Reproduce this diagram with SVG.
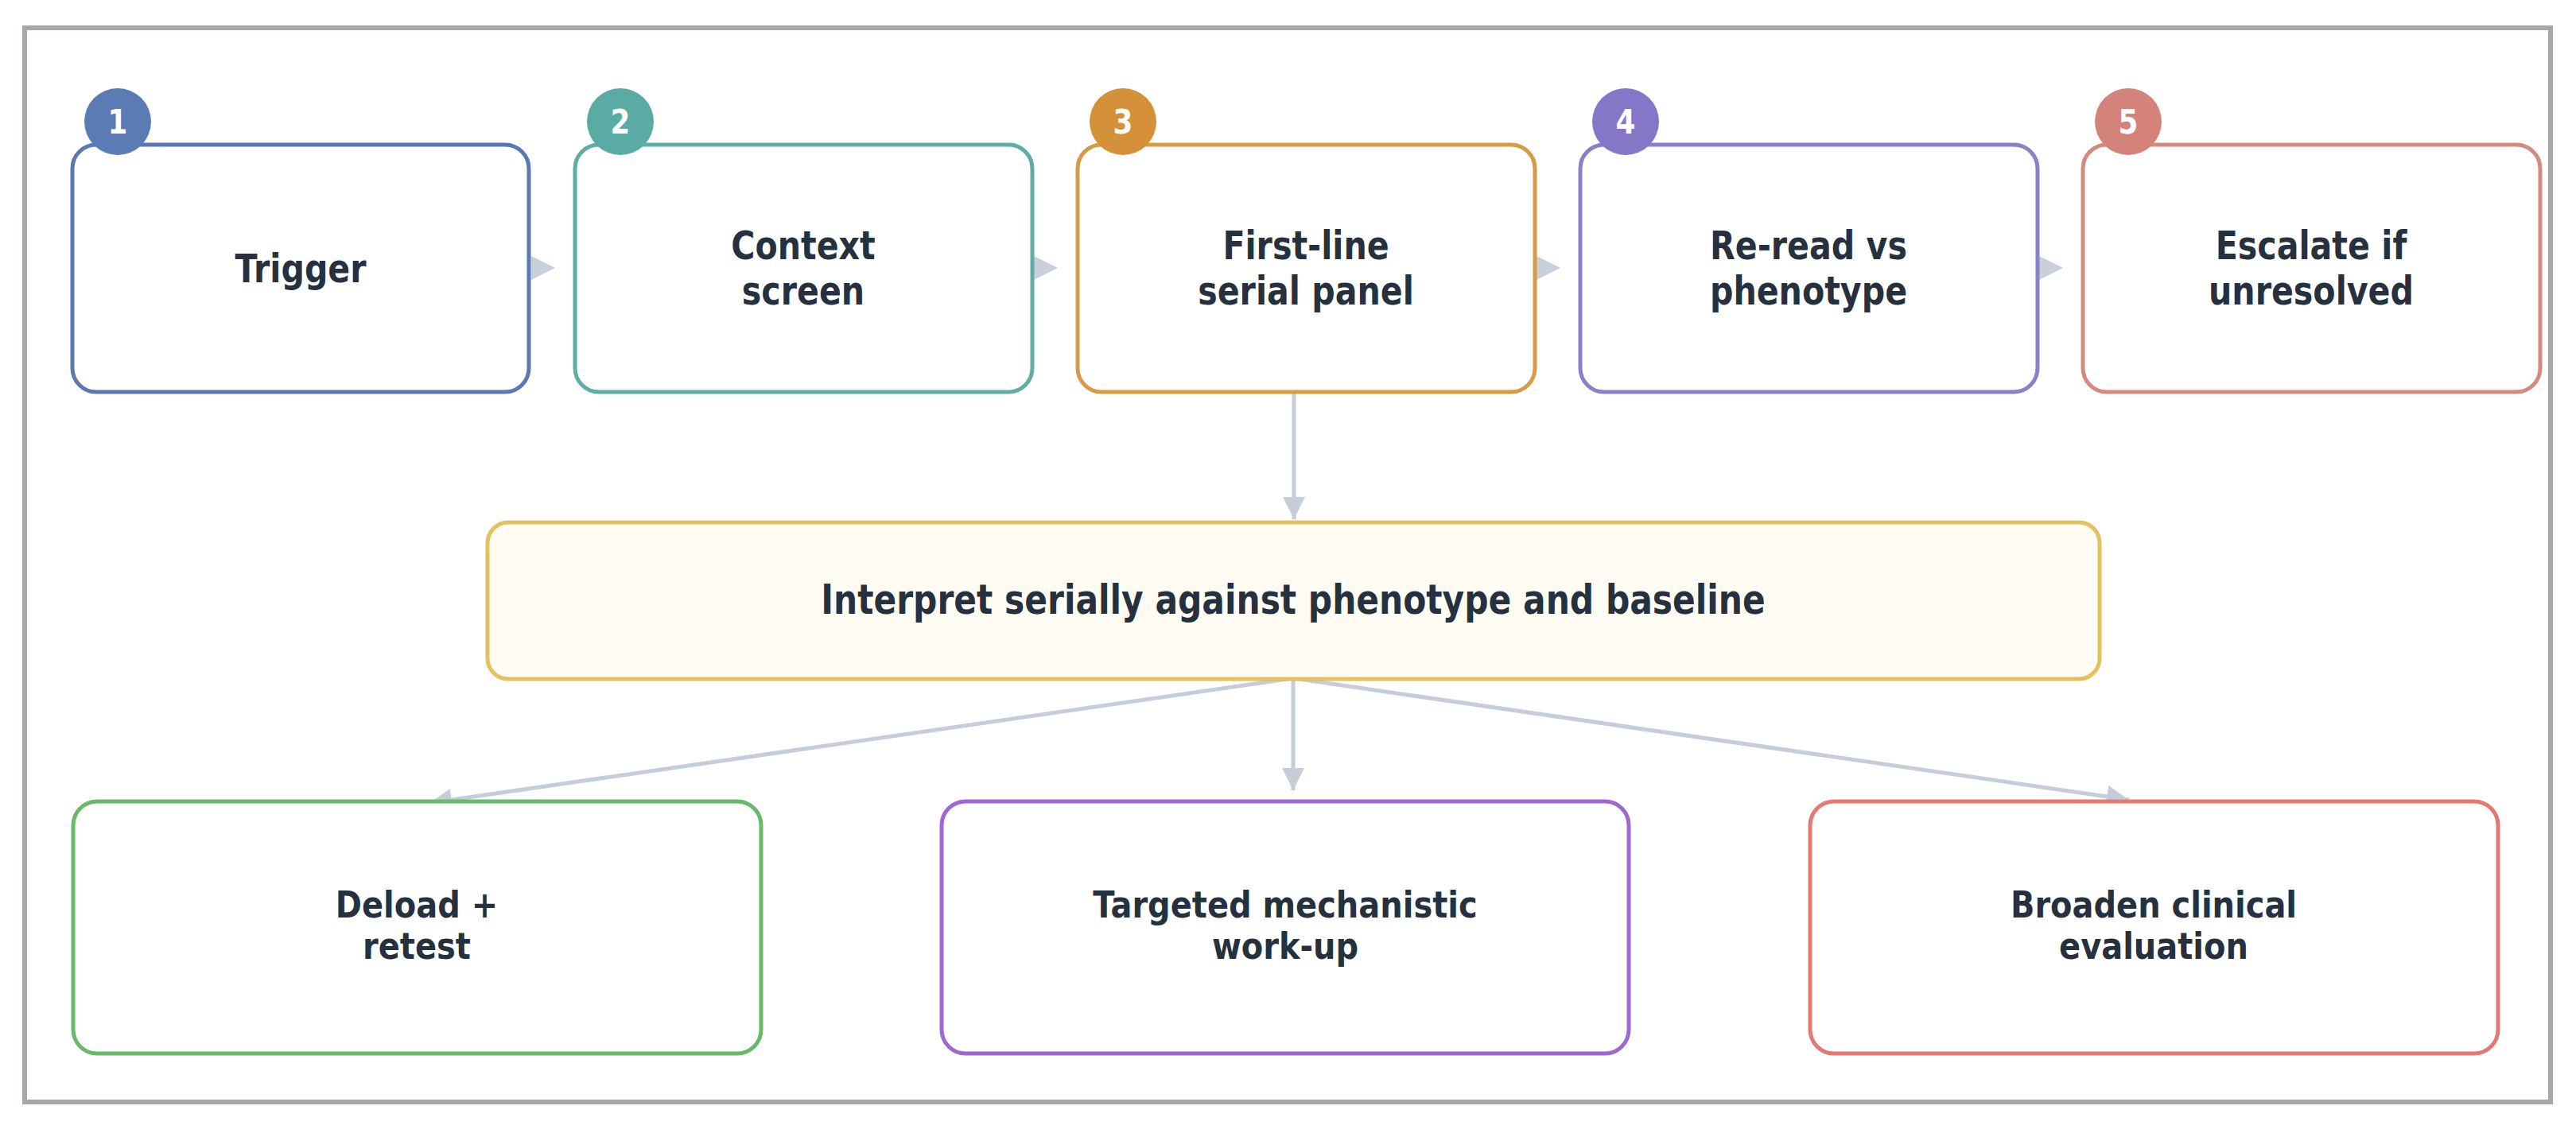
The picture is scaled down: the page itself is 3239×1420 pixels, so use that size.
<svg xmlns="http://www.w3.org/2000/svg" width="3239" height="1420" viewBox="0 0 3239 1420">
  <defs>
    <marker id="arr" viewBox="0 0 10 10" refX="10" refY="5" markerUnits="userSpaceOnUse" markerWidth="30" markerHeight="28" orient="auto">
      <path d="M0,0 L10,5 L0,10 z" fill="#c5cdd8"/>
    </marker>
    <style>
      .box { fill: #ffffff; stroke-width: 5; }
      .lbl { font-family: "DejaVu Sans", "Liberation Sans", sans-serif; font-weight: bold; fill: #263140; text-anchor: middle; }
      .top { font-size: 49px; }
      .mid { font-size: 52px; }
      .bot { font-size: 47px; }
      .num { font-family: "DejaVu Sans", "Liberation Sans", sans-serif; font-weight: bold; fill: #ffffff; font-size: 42px; text-anchor: middle; }
      .conn { stroke: #c5cdd8; stroke-width: 5; fill: none; }
      .tri { fill: #c8d0db; }
    </style>
  </defs>
  <rect x="0" y="0" width="3239" height="1420" fill="#ffffff"/>
  <rect x="31" y="35" width="3176" height="1351" fill="none" stroke="#aaa6a6" stroke-width="6"/>

  <g id="connectors">
    <polygon class="tri" points="668,322 698,337 668,352"/>
    <polygon class="tri" points="1300,322 1330,337 1300,352"/>
    <polygon class="tri" points="1932,322 1962,337 1932,352"/>
    <polygon class="tri" points="2564,322 2594,337 2564,352"/>
    <path class="conn" d="M1627 494 L1627 653" marker-end="url(#arr)"/>
    <path class="conn" d="M1626 853 L540 1010" marker-end="url(#arr)"/>
    <path class="conn" d="M1626 853 L1626 994" marker-end="url(#arr)"/>
    <path class="conn" d="M1626 853 L2677 1006" marker-end="url(#arr)"/>
  </g>

  <g id="step1">
    <rect class="box" x="91" y="182" width="574" height="311" rx="30" stroke="#5a79b1"/>
    <circle cx="148" cy="153" r="42" fill="#5b7bb5"/>
    <g transform="translate(148,168) scale(0.85,1)"><text class="num" x="0" y="0">1</text></g>
    <g transform="translate(378,355) scale(0.84,1)"><text class="lbl top" x="0" y="0">Trigger</text></g>
  </g>
  <g id="step2">
    <rect class="box" x="723" y="182" width="575" height="311" rx="30" stroke="#5eaea6"/>
    <circle cx="780" cy="153" r="42" fill="#5aaba3"/>
    <g transform="translate(780,168) scale(0.85,1)"><text class="num" x="0" y="0">2</text></g>
    <g transform="translate(1010,0) scale(0.84,1)">
      <text class="lbl top" x="0" y="326">Context</text>
      <text class="lbl top" x="0" y="383">screen</text>
    </g>
  </g>
  <g id="step3">
    <rect class="box" x="1355" y="182" width="575" height="311" rx="30" stroke="#d89a45"/>
    <circle cx="1412" cy="153" r="42" fill="#d4913a"/>
    <g transform="translate(1412,168) scale(0.85,1)"><text class="num" x="0" y="0">3</text></g>
    <g transform="translate(1642,0) scale(0.84,1)">
      <text class="lbl top" x="0" y="326">First-line</text>
      <text class="lbl top" x="0" y="383">serial panel</text>
    </g>
  </g>
  <g id="step4">
    <rect class="box" x="1987" y="182" width="575" height="311" rx="30" stroke="#8a7fc9"/>
    <circle cx="2044" cy="153" r="42" fill="#8676c8"/>
    <g transform="translate(2044,168) scale(0.85,1)"><text class="num" x="0" y="0">4</text></g>
    <g transform="translate(2274,0) scale(0.84,1)">
      <text class="lbl top" x="0" y="326">Re-read vs</text>
      <text class="lbl top" x="0" y="383">phenotype</text>
    </g>
  </g>
  <g id="step5">
    <rect class="box" x="2619" y="182" width="575" height="311" rx="30" stroke="#d58a80"/>
    <circle cx="2676" cy="153" r="42" fill="#d38379"/>
    <g transform="translate(2676,168) scale(0.85,1)"><text class="num" x="0" y="0">5</text></g>
    <g transform="translate(2906,0) scale(0.84,1)">
      <text class="lbl top" x="0" y="326">Escalate if</text>
      <text class="lbl top" x="0" y="383">unresolved</text>
    </g>
  </g>

  <g id="interpret">
    <rect x="613" y="657" width="2027" height="197" rx="26" fill="#fefbf3" stroke="#e3c25e" stroke-width="5"/>
    <g transform="translate(1626,772) scale(0.815,1)"><text class="lbl mid" x="0" y="0">Interpret serially against phenotype and baseline</text></g>
  </g>

  <g id="deload">
    <rect class="box" x="92" y="1008" width="865" height="317" rx="30" stroke="#6ab86a"/>
    <g transform="translate(524,0) scale(0.85,1)">
      <text class="lbl bot" x="0" y="1154">Deload +</text>
      <text class="lbl bot" x="0" y="1206">retest</text>
    </g>
  </g>
  <g id="targeted">
    <rect class="box" x="1184" y="1008" width="864" height="317" rx="30" stroke="#9e68d0"/>
    <g transform="translate(1616,0) scale(0.85,1)">
      <text class="lbl bot" x="0" y="1154">Targeted mechanistic</text>
      <text class="lbl bot" x="0" y="1206">work-up</text>
    </g>
  </g>
  <g id="broaden">
    <rect class="box" x="2276" y="1008" width="865" height="317" rx="30" stroke="#e07a72"/>
    <g transform="translate(2708,0) scale(0.85,1)">
      <text class="lbl bot" x="0" y="1154">Broaden clinical</text>
      <text class="lbl bot" x="0" y="1206">evaluation</text>
    </g>
  </g>
</svg>
